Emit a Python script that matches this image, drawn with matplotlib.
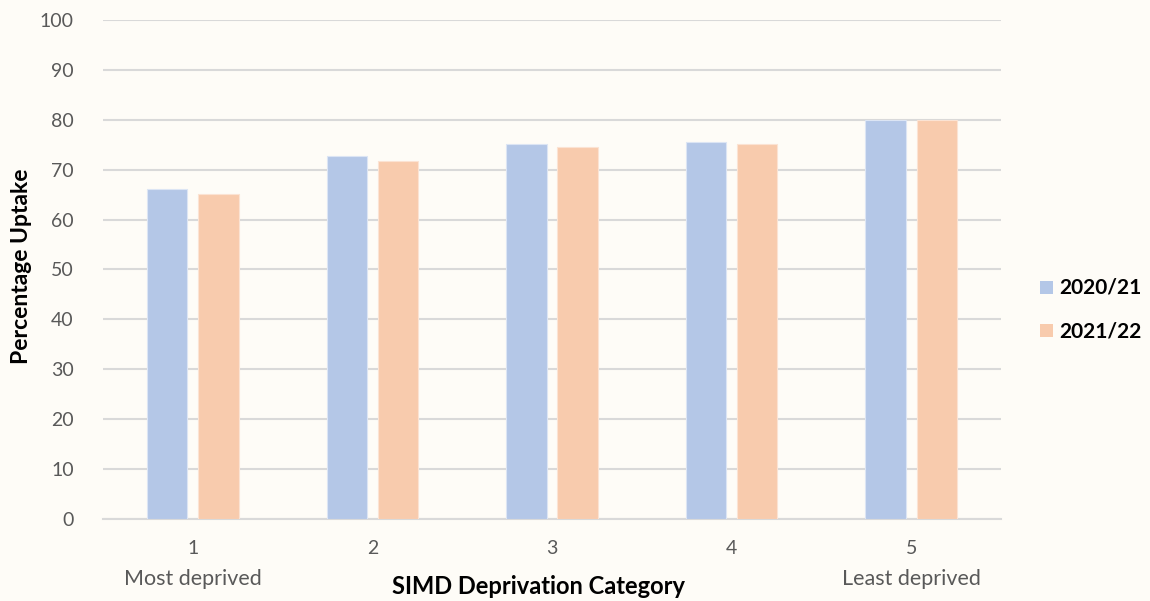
import matplotlib
matplotlib.use("Agg")
import matplotlib.pyplot as plt
import matplotlib.transforms as mtransforms
from matplotlib.patches import Rectangle
import numpy as np

categories = ["1", "2", "3", "4", "5"]
sub_labels = {0: "Most deprived", 4: "Least deprived"}
series_names = ["2020/21", "2021/22"]
values_2020 = [66.1, 72.8, 75.1, 75.5, 79.9]
values_2021 = [65.1, 71.8, 74.6, 75.2, 80.0]
y_ticks = list(range(0, 101, 10))

bg = "#FEFCF7"
c1 = "#B4C7E7"
c2 = "#F8CBAD"
txt = "#595959"
font = ["Lato", "DejaVu Sans"]
plt.rcParams["font.family"] = font

W, H = 1150, 601
fig = plt.figure(figsize=(W / 100, H / 100), dpi=100, facecolor=bg)
ax = fig.add_axes([103 / W, 1 - 518.7 / H, 898 / W, 498.5 / H], facecolor=bg)

x = np.arange(len(categories))
w = 0.225
off = 0.143
ax.bar(x - off, values_2020, w, color=c1, edgecolor="#DCE5F4", linewidth=0.8, zorder=3)
ax.bar(x + off, values_2021, w, color=c2, edgecolor="#FBE3D3", linewidth=0.8, zorder=3)

ax.set_xlim(-0.5, 4.5)
ax.set_ylim(0, 100)
ax.set_yticks(y_ticks)
ax.set_yticklabels([str(t) for t in y_ticks], color=txt, fontsize=14)
ax.yaxis.grid(True, color="#D9D9D9", linewidth=1.5, zorder=0)
ax.set_axisbelow(True)
ax.tick_params(axis="y", length=0, pad=21)
ax.set_xticks(x)
ax.set_xticklabels(categories, color=txt, fontsize=14)
ax.tick_params(axis="x", length=0, pad=15)
for s in ["top", "right", "left"]:
    ax.spines[s].set_visible(False)
ax.spines["bottom"].set_color("#D9D9D9")
ax.spines["bottom"].set_linewidth(1.5)

trans = mtransforms.blended_transform_factory(ax.transData, fig.transFigure)
for i, lab in sub_labels.items():
    ax.text(x[i], 1 - 579 / H, lab, transform=trans, fontsize=15.5, color=txt,
            ha="center", va="center")

fig.text(538 / W, 1 - 587 / H, "SIMD Deprivation Category", fontsize=17,
         fontweight="bold", color="black", ha="center", va="center")
fig.text(22 / W, 1 - 266 / H, "Percentage Uptake", fontsize=16.5,
         fontweight="bold", color="black", ha="center", va="center", rotation=90)

# legend
leg_y = [287, 331]
for name, col, yy in zip(series_names, [c1, c2], leg_y):
    fig.patches.append(Rectangle((1040 / W, 1 - (yy + 6.5) / H), 13 / W, 13 / H,
                                 transform=fig.transFigure, facecolor=col,
                                 edgecolor="none"))
    fig.text(1059 / W, 1 - yy / H, name, fontsize=15, fontweight="bold",
             color="black", ha="left", va="center")

fig.savefig("out.png", dpi=100, facecolor=bg)
